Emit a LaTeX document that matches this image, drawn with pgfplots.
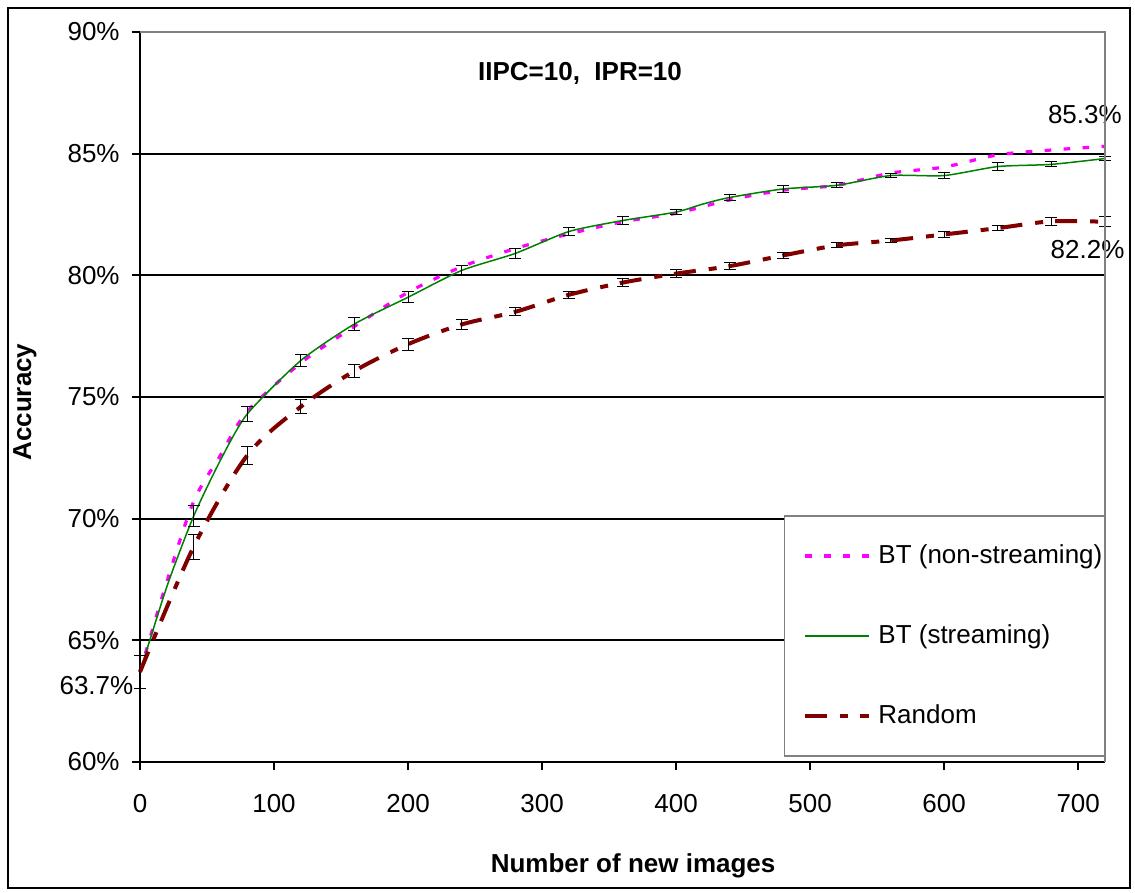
\documentclass[border=0pt]{standalone}
\usepackage{pgfplots}
\pgfplotsset{compat=1.18}
\usepackage{pgfplotstable}
\usepackage{fontspec}
\setmainfont{Liberation Sans}
\definecolor{btmag}{RGB}{255,0,255}
\definecolor{btgreen}{RGB}{0,128,0}
\definecolor{rndred}{RGB}{128,0,0}
\definecolor{bordergray}{RGB}{128,128,128}

\pgfplotstableread{
x y
0 63.7
20 67.4
40 70.7
60 72.6
80 74.4
120 76.4
160 77.9
200 79.3
240 80.35
280 81.1
320 81.7
360 82.2
400 82.55
440 83.1
480 83.5
520 83.7
560 84.2
600 84.45
640 84.95
680 85.15
720 85.3
}\nonstream

\pgfplotstableread{
x y
0 63.7
20 67.2
40 70.1
60 72.4
80 74.3
120 76.5
160 78.0
200 79.1
240 80.2
280 80.9
320 81.8
360 82.25
400 82.6
420 82.93
440 83.2
480 83.55
520 83.7
560 84.1
600 84.1
640 84.47
680 84.56
720 84.8
}\stream

\pgfplotstableread{
x y e
0 63.7 0.68
40 70.1 0.44
80 74.3 0.32
120 76.5 0.25
160 78.0 0.27
200 79.1 0.22
240 80.2 0.2
280 80.9 0.2
320 81.8 0.18
360 82.25 0.17
400 82.6 0.1
440 83.2 0.12
480 83.55 0.13
520 83.7 0.1
560 84.1 0.1
600 84.1 0.12
640 84.47 0.15
680 84.56 0.1
720 84.8 0.08
}\streamerr

\pgfplotstableread{
x y e
0 63.7 0.68
40 68.84 0.5
80 72.6 0.36
120 74.6 0.28
160 76.07 0.25
200 77.17 0.25
240 77.98 0.2
280 78.5 0.17
320 79.2 0.15
360 79.7 0.15
400 80.07 0.17
440 80.38 0.15
480 80.82 0.12
520 81.23 0.1
560 81.43 0.1
600 81.68 0.12
640 81.94 0.1
680 82.22 0.17
720 82.2 0.2
}\random

\begin{document}
\begin{tikzpicture}
\begin{axis}[
  scale only axis,
  width=482.5pt, height=365pt,
  xmin=0, xmax=720, ymin=60, ymax=90,
  axis x line*=bottom, axis y line*=left,
  axis line style={black, line width=1pt},
  clip=false,
  xtick={0,100,...,700},
  ytick={60,65,...,90},
  yticklabel={\pgfmathprintnumber{\tick}\%},
  /pgf/number format/assume math mode=true,
  tick label style={font=\fontsize{13}{15}\selectfont},
  tick align=outside,
  major tick length=4pt,
  tick style={black, line width=1pt},
  ymajorgrids,
  major grid style={black, line width=1pt},
  yticklabel style={anchor=east, inner sep=0pt, xshift=-6pt},
  xticklabel style={anchor=north, inner sep=0pt, yshift=-12pt},
  every axis x label/.style={at={(rel axis cs:0.511,0)}, anchor=center, yshift=-52pt, font=\fontsize{13}{15}\selectfont\bfseries},
  every axis y label/.style={at={(rel axis cs:0,0.493)}, anchor=center, xshift=-57.5pt, rotate=90, font=\fontsize{13}{15}\selectfont\bfseries},
  xlabel={Number of new images},
  ylabel={Accuracy},
  legend style={at={(rel axis cs:0.667,0.338)}, anchor=north west, draw=bordergray, line width=0.75pt, fill=white,
    font=\fontsize{13}{15}\selectfont, inner xsep=1pt, inner ysep=13.5pt, row sep=27pt,
    cells={anchor=west}, nodes={inner sep=0pt, text height=10pt, text depth=3pt}},
  legend image code/.code={\path (0pt,0pt); \draw[#1] (8.5pt,0pt) -- (40.5pt,0pt); \path (44pt,0pt);},
]
\addplot[btmag, line width=1.6pt, dash pattern=on 3.3pt off 6.2pt, smooth] table[x=x,y=y] {\nonstream};
\addlegendentry{BT (non-streaming)}
\addplot[btgreen, line width=0.75pt, smooth, tension=0.4] table[x=x,y=y] {\stream};
\addlegendentry{BT (streaming)}
\addplot[rndred, line width=2pt, dash pattern=on 11pt off 6.5pt on 4pt off 6pt, smooth] table[x=x,y=y] {\random};
\addlegendentry{Random}
\addplot[forget plot, draw=none, mark=none, error bars/.cd, y dir=both, y explicit,
  error bar style={draw=black, line width=0.5pt, solid},
  error mark options={rotate=90, mark size=3pt, line width=0.5pt, black, solid}]
  table[x=x,y=y,y error=e] {\streamerr};
\addplot[forget plot, draw=none, mark=none, error bars/.cd, y dir=both, y explicit,
  error bar style={draw=black, line width=0.5pt, solid},
  error mark options={rotate=90, mark size=3pt, line width=0.5pt, black, solid}]
  table[x=x,y=y,y error=e] {\random};
\node[font=\fontsize{13}{15}\selectfont\bfseries] at (axis cs:328.3,88.31) {IIPC=10,~~IPR=10};
\node[font=\fontsize{13}{15}\selectfont] at (axis cs:705,86.59) {85.3\%};
\node[font=\fontsize{13}{15}\selectfont] at (axis cs:707,81.04) {82.2\%};
\node[font=\fontsize{13}{15}\selectfont] at (axis cs:-32.5,63.16) {63.7\%};
\coordinate (A) at (rel axis cs:0,0);
\coordinate (B) at (rel axis cs:1,1);
\end{axis}
\draw[bordergray, line width=1pt] (A |- B) -- (B) -- (B |- A);
\draw[black, line width=1pt] ([shift={(-66pt,-63pt)}]A) rectangle ([shift={(12.5pt,12pt)}]B);
\path ([shift={(-70pt,-65.5pt)}]A) rectangle ([shift={(15pt,16pt)}]B);
\end{tikzpicture}
\end{document}
